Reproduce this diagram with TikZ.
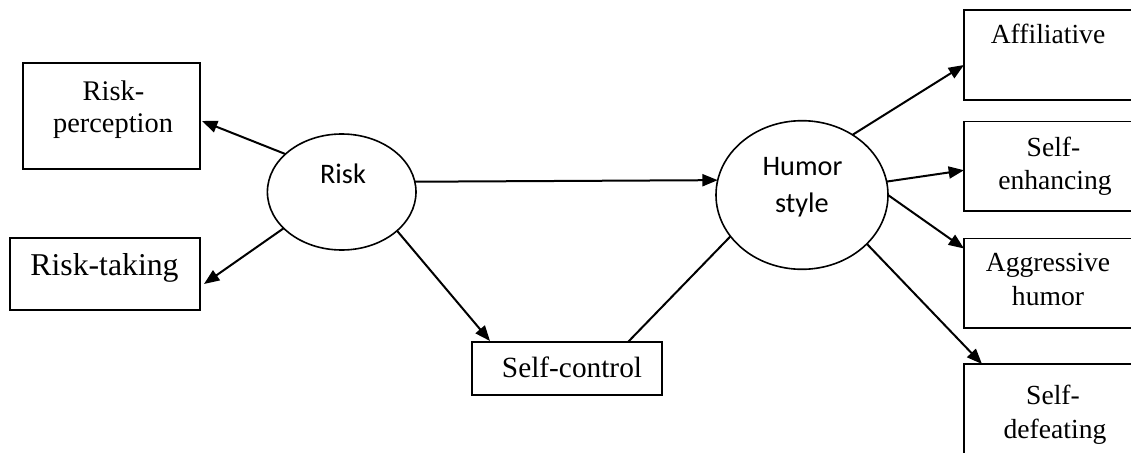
\documentclass[tikz,border=0pt]{standalone}
\usepackage{fontspec}
\setmainfont{Liberation Serif}
\newfontfamily\calfont{Carlito}
\usetikzlibrary{arrows.meta,calc,shapes.geometric}
\begin{document}
\begin{tikzpicture}[x=0.75pt,y=-0.75pt,
  box/.style={draw, line width=1.2pt, rectangle, inner sep=0, outer sep=0},
  oval/.style={draw, line width=1.2pt, ellipse, inner sep=0, outer sep=0},
  lbl/.style={inner sep=0, anchor=base, font=\fontsize{20.7pt}{24pt}\selectfont},
  slbl/.style={inner sep=0, anchor=base, font=\calfont\fontsize{21.2pt}{25pt}\selectfont},
  arr/.style={line width=1.5pt, -{Triangle[length=11.5pt,width=9pt]}},
  conn/.style={line width=1.5pt}]
\useasboundingbox (0,0) rectangle (1131,453);
\clip (0,0) rectangle (1131,453);
\fill[white] (0,0) rectangle (1131,453);

% left boxes
\node[box, minimum width=132.75pt, minimum height=79.5pt] (rp) at (111.5,116) {};
\node[box, minimum width=142.5pt, minimum height=54pt] (rt) at (105,274) {};
\node[box, minimum width=142.5pt, minimum height=39.75pt] (sc) at (567,368.5) {};

% right boxes (cut by the right edge)
\node[box, minimum width=132pt, minimum height=67.5pt] (aff) at (1052,55) {};
\node[box, minimum width=132pt, minimum height=67.1pt] (se) at (1052,166.25) {};
\node[box, minimum width=132pt, minimum height=67.1pt] (ag) at (1052,283.25) {};
\node[box, minimum width=132pt, minimum height=75pt] (sd) at (1052,414) {};

% ellipses
\node[oval, minimum width=111.45pt, minimum height=87pt] (risk) at (341.7,192) {};
\node[oval, minimum width=129pt, minimum height=111.45pt] (humor) at (802,195) {};

% texts
\node[lbl, font=\fontsize{21.3pt}{25pt}\selectfont] (rp1) at (113.5,100) {Risk-};
\node[lbl, font=\fontsize{21.3pt}{25pt}\selectfont] (rp2) at (113,132.7) {perception};
\node[lbl, font=\fontsize{23.8pt}{28pt}\selectfont] (rt1) at (104.5,275) {Risk-taking};
\node[lbl, font=\fontsize{22pt}{26pt}\selectfont] (sc1) at (572,377) {Self-control};
\node[lbl] (aff1) at (1048,43.3) {Af{}f{}iliative};
\node[lbl] (se1) at (1053.5,156.7) {Self-};
\node[lbl] (se2) at (1055,189.5) {enhancing};
\node[lbl] (ag1) at (1048,271.3) {Aggressive};
\node[lbl] (ag2) at (1048,305.3) {humor};
\node[lbl] (sd1) at (1053,404) {Self-};
\node[lbl] (sd2) at (1055,438) {defeating};
\node[slbl] (risk1) at (343,183.3) {Risk};
\node[slbl] (hum1) at (802.5,175) {Humor};
\node[slbl] (hum2) at (802,212.7) {style};

% connectors
\draw[arr] (risk.146.2) -- ($(rp.east)+(2,5)$);
\draw[arr] (risk.212.2) -- ($(rt.east)+(4,10)$);
\draw[arr] (risk.-35.4) -- ($(sc.north west)+(18,-1)$);
\draw[arr] (risk.8.6) -- (humor.170.6);
\draw[conn] ($(sc.north east)+(-34,0)$) -- (humor.210.9);
\draw[arr] (humor.50) -- ($(aff.west)+(0,10)$);
\draw[arr] (humor.9.2) -- ($(se.west)+(0,4)$);
\draw[arr] (humor.0.5) -- ($(ag.north west)+(0,10)$);
\draw[arr] (humor.-37.4) -- ($(sd.north west)+(18,0)$);
\end{tikzpicture}
\end{document}
